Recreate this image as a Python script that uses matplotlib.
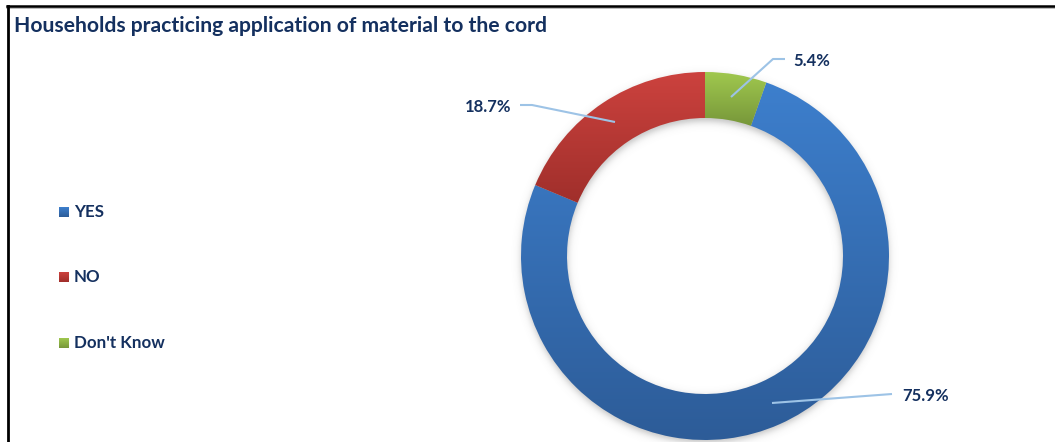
import numpy as np
import matplotlib
matplotlib.use("Agg")
import matplotlib.pyplot as plt
from matplotlib.colors import LinearSegmentedColormap
from matplotlib.patches import Rectangle
from matplotlib.lines import Line2D

# ---- data ----
title = "Households practicing application of material to the cord"
categories = ["YES", "NO", "Don't Know"]
shares = [75.9, 18.7, 5.4]

# ---- style ----
W, H = 1055, 442
text_color = "#14305F"
top_colors = ["#3D7FCD", "#CC423E", "#A0C84E"]
bottom_colors = ["#2D5C98", "#A02F2B", "#77973A"]
leader_color = "#9DC3E6"
font = "Lato"

fig = plt.figure(figsize=(W / 100, H / 100), dpi=100)
fig.patch.set_facecolor("white")

# axes spanning the figure, data units = pixels (y up)
ax = fig.add_axes([0, 0, 1, 1])
ax.set_xlim(0, W)
ax.set_ylim(0, H)
ax.set_aspect("equal")
ax.axis("off")


def py(y):
    """pixel row (from top) -> data y"""
    return H - y


cx, cy = 705, py(256)
r_out, ring = 184, 46

# soft drop shadow under the ring
gx = np.arange(cx - r_out - 20, cx + r_out + 20, 1.0)
gy = np.arange(cy - r_out - 20, cy + r_out + 20, 1.0)
XX, YY = np.meshgrid(gx, gy)
rr = np.hypot(XX - cx, YY - (cy - 3))
s = 2.2
sig = lambda t: 1 / (1 + np.exp(-t / s))
alpha = 0.45 * (sig(rr - (r_out - ring)) - sig(rr - r_out))
shadow = np.zeros(XX.shape + (4,))
shadow[..., :3] = 0.45
shadow[..., 3] = alpha
ax.imshow(shadow, extent=(gx[0], gx[-1], gy[0], gy[-1]), origin="lower",
          aspect="auto", zorder=1, interpolation="bilinear")

start = 90 - 360 * shares[-1] / sum(shares)
wedges, _ = ax.pie(shares, radius=r_out, center=(cx, cy), startangle=start,
                   counterclock=False, frame=True,
                   wedgeprops=dict(width=ring, linewidth=0, facecolor="none"))

# vertical gradient fill per wedge
grad = np.linspace(0, 1, 256).reshape(-1, 1)
for w, c0, c1 in zip(wedges, top_colors, bottom_colors):
    w.set_zorder(2)
    ext = w.get_path().get_extents()
    cmap = LinearSegmentedColormap.from_list("g", [c0, c1])
    im = ax.imshow(grad, cmap=cmap, extent=(ext.x0, ext.x1, ext.y0, ext.y1),
                   origin="upper", aspect="auto", zorder=2,
                   interpolation="bilinear")
    im.set_clip_path(w)

# data labels with leader lines
label_pos = {"YES": (902, 396, "left"), "NO": (511, 107, "right"),
             "Don't Know": (793, 61, "left")}
leaders = {"YES": [(772, 403), (892, 394)],
           "NO": [(520, 105), (532, 105), (615, 122)],
           "Don't Know": [(731, 97), (773, 59), (785, 59)]}
for cat, v in zip(categories, shares):
    xs, ys = zip(*leaders[cat])
    ax.plot(xs, [py(y) for y in ys], color=leader_color, lw=1.5,
            solid_capstyle="butt", zorder=3)
    x, y, ha = label_pos[cat]
    ax.text(x, py(y), f"{v:.1f}%", ha=ha, va="center", fontsize=12,
            fontweight="bold", color=text_color, family=font, zorder=4)

# title
ax.text(14, py(26), title, ha="left", va="center", fontsize=15.25,
        fontweight="bold", color=text_color, family=font)

# legend
leg_y = [212, 277, 343]
for cat, y, c0, c1 in zip(categories, leg_y, top_colors, bottom_colors):
    sq = Rectangle((59, py(y) - 5), 10, 10, facecolor="none", linewidth=0)
    ax.add_patch(sq)
    cmap = LinearSegmentedColormap.from_list("g", [c0, c1])
    im = ax.imshow(grad, cmap=cmap, extent=(59, 69, py(y) - 5, py(y) + 5),
                   origin="upper", aspect="auto", zorder=2)
    im.set_clip_path(sq)
    ax.text(74, py(y), cat, ha="left", va="center", fontsize=12.2,
            fontweight="bold", color=text_color, family=font)

# frame lines (top and left)
ax.add_line(Line2D([7, W], [py(8), py(8)], color="#B0B0B0", lw=1.2))
ax.add_line(Line2D([7, W], [py(6), py(6)], color="black", lw=1.8))
ax.add_line(Line2D([7.8, 7.8], [py(5.5), 0], color="black", lw=2.0))

ax.set_xlim(0, W)
ax.set_ylim(0, H)
ax.set_aspect("equal")

fig.savefig("out.png", dpi=100, facecolor="white")
